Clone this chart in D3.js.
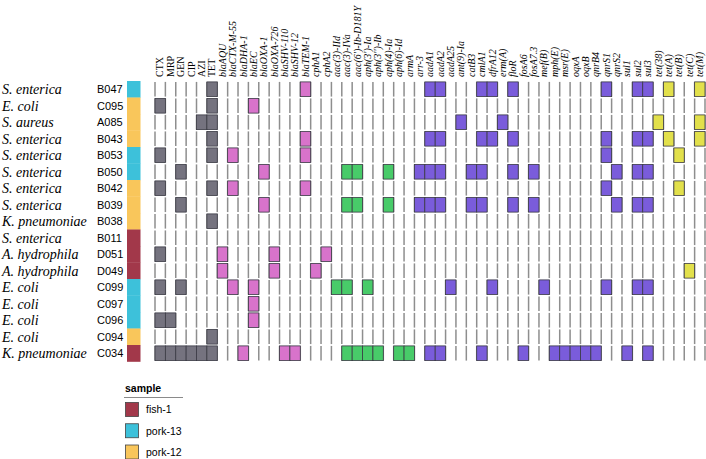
<!DOCTYPE html>
<html><head><meta charset="utf-8">
<script src="https://cdn.jsdelivr.net/npm/d3@7"></script>
<style>
body{margin:0;background:#fff;}
svg{display:block;}
</style></head>
<body>
<svg id="chart" width="706" height="459"></svg>
<script>
// ---- data ----
const columns = ["CTX","MRP","GEN","CIP","AZI","TET","blaAQU","blaCTX-M-55","blaDHA-1","blaEC","blaOXA-1","blaOXA-726","blaSHV-110","blaSHV-12","blaTEM-1","cphA1","cphA2","aac(3)-IId","aac(3)-IVa","aac(6')-Ib-D181Y","aph(3')-Ia","aph(3'')-Ib","aph(4)-Ia","aph(6)-Id","armA","arr-3","aadA1","aadA2","aadA25","ant(9)-Ia","catB3","cmlA1","dfrA12","erm(A)","floR","fosA6","fosA7.3","mef(B)","mph(E)","msr(E)","oqxA","oqxB","qnrB4","qnrS1","qnrS2","sul1","sul2","sul3","tet(38)","tet(A)","tet(B)","tet(C)","tet(M)"];
const columnClass = ["phenotype","phenotype","phenotype","phenotype","phenotype","phenotype",
 "betalactam","betalactam","betalactam","betalactam","betalactam","betalactam","betalactam","betalactam","betalactam","betalactam","betalactam",
 "aminoglycoside","aminoglycoside","aminoglycoside","aminoglycoside","aminoglycoside","aminoglycoside","aminoglycoside","aminoglycoside",
 "other","other","other","other","other","other","other","other","other","other","other","other","other","other","other","other","other","other","other","other","other","other","other",
 "tetracycline","tetracycline","tetracycline","tetracycline","tetracycline"];
const phenotypeCols = ["CTX","MRP","GEN","CIP","AZI","TET"];

const samples = ["B047","C095","A085","B043","B053","B050","B042","B039","B038","B011","D051","D049","C099","C097","C096","C094","C034"];
const species = ["S. enterica","E. coli","S. aureus","S. enterica","S. enterica","S. enterica","S. enterica","S. enterica","K. pneumoniae","S. enterica","A. hydrophila","A. hydrophila","E. coli","E. coli","E. coli","E. coli","K. pneumoniae"];
const sampleSource = ["pork-13","pork-12","pork-12","pork-12","pork-13","pork-13","pork-12","pork-12","pork-12","fish-1","fish-1","fish-1","pork-13","pork-13","pork-13","pork-12","fish-1"];
const presence = [
 ["TET","blaTEM-1","aadA1","aadA2","cmlA1","dfrA12","floR","qnrS1","sul2","sul3","tet(A)","tet(M)"],
 ["CTX","TET","blaEC"],
 ["AZI","TET","ant(9)-Ia","erm(A)","tet(38)","tet(M)"],
 ["TET","blaTEM-1","aadA1","aadA2","cmlA1","dfrA12","floR","qnrS1","sul2","sul3","tet(A)","tet(M)"],
 ["CTX","TET","blaCTX-M-55","blaTEM-1","qnrS1","tet(B)"],
 ["GEN","blaOXA-1","aac(3)-IVa","aac(6')-Ib-D181Y","aph(4)-Ia","arr-3","aadA1","aadA2","catB3","cmlA1","floR","fosA7.3","qnrS2","sul2","sul3"],
 ["CTX","TET","blaCTX-M-55","blaTEM-1","qnrS1","tet(B)"],
 ["GEN","blaOXA-1","aac(3)-IVa","aac(6')-Ib-D181Y","aph(4)-Ia","arr-3","aadA1","aadA2","catB3","cmlA1","floR","fosA7.3","qnrS2","sul2","sul3"],
 ["TET"],
 [],
 ["CTX","blaAQU","blaOXA-726","cphA2"],
 ["blaAQU","blaOXA-726","cphA1","tet(C)"],
 ["CTX","GEN","blaCTX-M-55","blaEC","aac(3)-IId","aac(3)-IVa","aph(3')-Ia","aadA25","dfrA12","mef(B)","qnrS1","sul2","sul3"],
 ["blaEC"],
 ["CTX","MRP","blaEC"],
 ["TET"],
 ["CTX","MRP","GEN","CIP","AZI","TET","blaDHA-1","blaSHV-110","blaSHV-12","aac(3)-IVa","aac(6')-Ib-D181Y","aph(3')-Ia","aph(3'')-Ib","aph(6)-Id","armA","aadA1","aadA2","cmlA1","fosA6","mph(E)","msr(E)","oqxA","oqxB","qnrB4","sul1","sul3"]
];
const sourceNames = ["fish-1","pork-13","pork-12"];
const sourceColors = ["#A2384A","#3DC1DA","#F9C65B"];
const classNames = ["phenotype","betalactam","aminoglycoside","other","tetracycline"];
const classColors = ["#75737F","#D873CB","#48CB69","#7A5CDB","#E2E04B"];
const legendTitle = "sample";

// ---- scales ----
const svg = d3.select("#chart");
const x = d3.scaleBand().domain(columns).range([155, 705]).padding(0);
const y = d3.scaleBand().domain(samples).range([81, 361.5]).padding(0);
const srcColor = d3.scaleOrdinal().domain(sourceNames).range(sourceColors);
const clsColor = d3.scaleOrdinal().domain(classNames).range(classColors);
const cls = c => columnClass[columns.indexOf(c)];
const gap = 0.9;

// column boundary lines for every row
const bounds = d3.range(columns.length + 1);
const rowsG = svg.append("g");
samples.forEach(s => {
  rowsG.selectAll(null).data(bounds).join("line")
    .attr("x1", i => x.range()[0] + i * x.bandwidth())
    .attr("x2", i => x.range()[0] + i * x.bandwidth())
    .attr("y1", y(s) + gap).attr("y2", y(s) + y.bandwidth() - gap)
    .attr("stroke", "#8e8e8e").attr("stroke-width", 1.5);
});

// filled cells
const cells = [];
samples.forEach((s, i) => presence[i].forEach(g => cells.push({s, g})));
svg.append("g").selectAll("rect").data(cells).join("rect")
  .attr("x", d => x(d.g)).attr("width", x.bandwidth())
  .attr("y", d => y(d.s) + gap).attr("height", y.bandwidth() - 2 * gap)
  .attr("fill", d => clsColor(cls(d.g)))
  .attr("stroke", "#3b3b45").attr("stroke-width", 0.8);

// sample source strip
svg.append("g").selectAll("rect").data(samples).join("rect")
  .attr("x", 127).attr("width", 13.5)
  .attr("y", d => y(d)).attr("height", y.bandwidth() + 0.3)
  .attr("fill", (d, i) => srcColor(sampleSource[i]));

// row labels
svg.append("g").selectAll("text").data(samples).join("text")
  .attr("x", 2).attr("y", d => y(d) + y.bandwidth() / 2).attr("dy", "0.35em")
  .attr("font-family", "Liberation Serif").attr("font-style", "italic").attr("font-size", 14)
  .text((d, i) => species[i]);
svg.append("g").selectAll("text").data(samples).join("text")
  .attr("x", 97).attr("y", d => y(d) + y.bandwidth() / 2).attr("dy", "0.36em")
  .attr("font-family", "Liberation Sans").attr("font-size", 11)
  .text(d => d);

// column labels
svg.append("g").selectAll("text").data(columns).join("text")
  .attr("transform", d => `translate(${x(d) + x.bandwidth() / 2 + 3.3},77) rotate(-90)`)
  .attr("font-family", "Liberation Serif").attr("font-size", 10)
  .attr("font-style", d => phenotypeCols.includes(d) ? "normal" : "italic")
  .text(d => d);

// legend
const lg = svg.append("g");
lg.append("text").attr("x", 125).attr("y", 392).attr("font-family", "Liberation Sans")
  .attr("font-weight", "bold").attr("font-size", 10.5).text(legendTitle);
lg.append("line").attr("x1", 124).attr("x2", 183).attr("y1", 397.5).attr("y2", 397.5)
  .attr("stroke", "#8a8a8a").attr("stroke-width", 1);
const ly = d3.scalePoint().domain(sourceNames).range([409.5, 452]);
lg.selectAll("rect").data(sourceNames).join("rect")
  .attr("x", 125.5).attr("y", d => ly(d) - 7).attr("width", 13).attr("height", 14)
  .attr("fill", d => srcColor(d)).attr("stroke", "#444").attr("stroke-width", 0.8);
lg.selectAll("text.l").data(sourceNames).join("text").attr("class", "l")
  .attr("x", 146).attr("y", d => ly(d)).attr("dy", "0.36em")
  .attr("font-family", "Liberation Sans").attr("font-size", 10.5).text(d => d);
</script>
</body></html>
